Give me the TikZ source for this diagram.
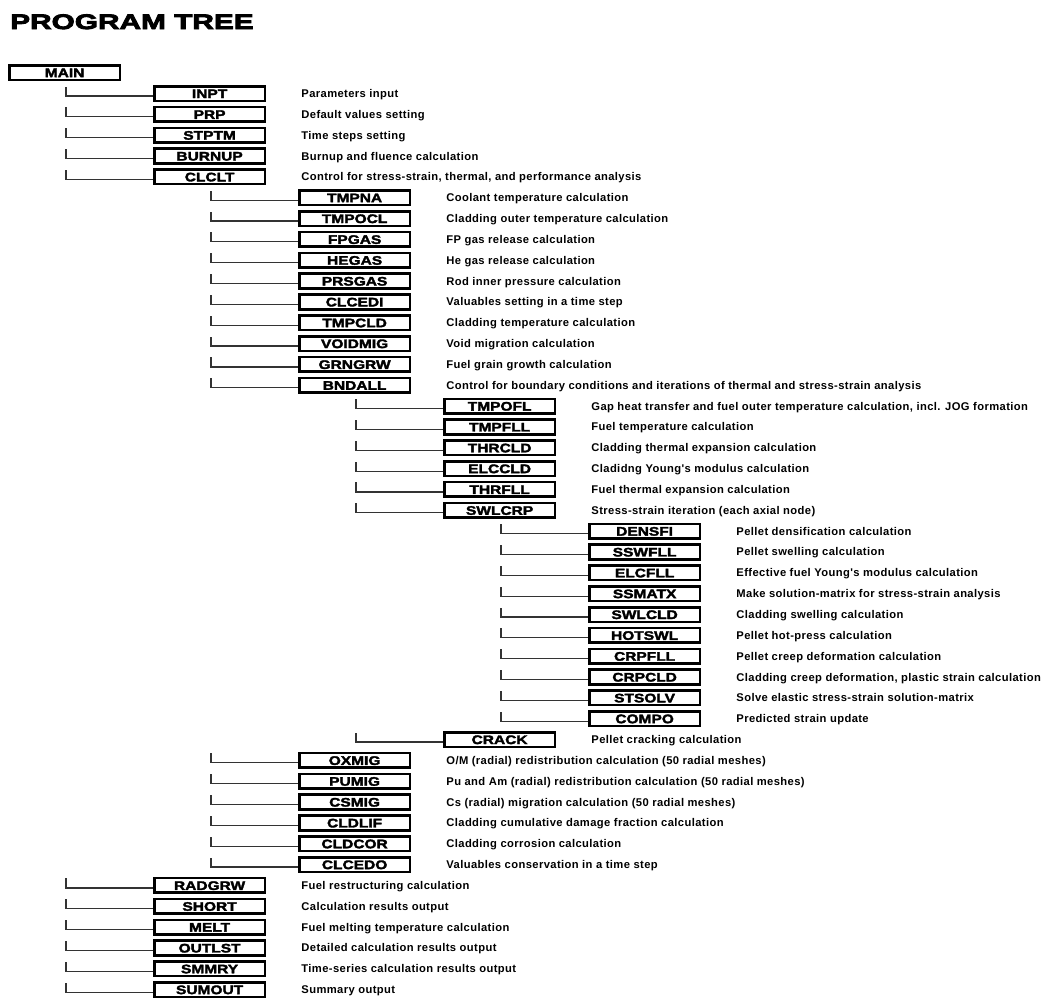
\documentclass[tikz,border=0pt]{standalone}
\usepackage{fontspec}
\usetikzlibrary{calc}

% Heavy, wide face for routine names and the heading
\newfontfamily\heavyfont{Liberation Sans}[FakeStretch=1.25,BoldFeatures={FakeBold=2.6}]
\newfontfamily\titlefont{Liberation Sans}[FakeStretch=1.42,BoldFeatures={FakeBold=4}]
% Face for the routine descriptions
\newfontfamily\descfont{Liberation Sans}[LetterSpace=3.5]

\tikzset{
  routine/.style={draw=black, line width=2.6pt, fill=white,
    minimum width=110.6pt, minimum height=14.6pt, inner sep=0pt, anchor=west,
    font=\heavyfont\bfseries\fontsize{12.4}{12.4}\selectfont,
    text height=9pt, text depth=0pt},
  note/.style={anchor=base west, inner sep=0pt,
    font=\descfont\bfseries\fontsize{11.2}{12}\selectfont},
  branch/.style={draw=black!80, line width=1.2pt},
  heading/.style={anchor=base west, inner sep=0pt,
    font=\titlefont\bfseries\fontsize{21}{21}\selectfont},
}

% \rtn{name}{parent}{level}{row}{description}
\newcommand\rtn[5]{%
  \node[routine] (#1) at ({8+145*#3},{-(93.5+20.84*#4)}) {#1};
  \node[note] (#1-note) at ($(#1.east)+(35pt,-4pt)$) {#5};
  \draw[branch] ([yshift=-2.5pt]#1.west) -| ($(#2.west |- #1.west)+(58pt,7pt)$);
}

\begin{document}
\begin{tikzpicture}[x=1pt,y=1pt]
\useasboundingbox (0,0) rectangle (1048,-999);

\node[heading] (title) at (10,-29) {PROGRAM TREE};

\node[routine] (MAIN) at (8,{-(93.5-20.84)}) {MAIN};

\rtn{INPT}{MAIN}{1}{0}{Parameters input}
\rtn{PRP}{MAIN}{1}{1}{Default values setting}
\rtn{STPTM}{MAIN}{1}{2}{Time steps setting}
\rtn{BURNUP}{MAIN}{1}{3}{Burnup and fluence calculation}
\rtn{CLCLT}{MAIN}{1}{4}{Control for stress-strain, thermal, and performance analysis}
\rtn{TMPNA}{CLCLT}{2}{5}{Coolant temperature calculation}
\rtn{TMPOCL}{CLCLT}{2}{6}{Cladding outer temperature calculation}
\rtn{FPGAS}{CLCLT}{2}{7}{FP gas release calculation}
\rtn{HEGAS}{CLCLT}{2}{8}{He gas release calculation}
\rtn{PRSGAS}{CLCLT}{2}{9}{Rod inner pressure calculation}
\rtn{CLCEDI}{CLCLT}{2}{10}{Valuables setting in a time step}
\rtn{TMPCLD}{CLCLT}{2}{11}{Cladding temperature calculation}
\rtn{VOIDMIG}{CLCLT}{2}{12}{Void migration calculation}
\rtn{GRNGRW}{CLCLT}{2}{13}{Fuel grain growth calculation}
\rtn{BNDALL}{CLCLT}{2}{14}{Control for boundary conditions and iterations of thermal and stress-strain analysis}
\rtn{TMPOFL}{BNDALL}{3}{15}{Gap heat transfer and fuel outer temperature calculation, incl. JOG formation}
\rtn{TMPFLL}{BNDALL}{3}{16}{Fuel temperature calculation}
\rtn{THRCLD}{BNDALL}{3}{17}{Cladding thermal expansion calculation}
\rtn{ELCCLD}{BNDALL}{3}{18}{Cladidng Young's modulus calculation}
\rtn{THRFLL}{BNDALL}{3}{19}{Fuel thermal expansion calculation}
\rtn{SWLCRP}{BNDALL}{3}{20}{Stress-strain iteration (each axial node)}
\rtn{DENSFI}{SWLCRP}{4}{21}{Pellet densification calculation}
\rtn{SSWFLL}{SWLCRP}{4}{22}{Pellet swelling calculation}
\rtn{ELCFLL}{SWLCRP}{4}{23}{Effective fuel Young's modulus calculation}
\rtn{SSMATX}{SWLCRP}{4}{24}{Make solution-matrix for stress-strain analysis}
\rtn{SWLCLD}{SWLCRP}{4}{25}{Cladding swelling calculation}
\rtn{HOTSWL}{SWLCRP}{4}{26}{Pellet hot-press calculation}
\rtn{CRPFLL}{SWLCRP}{4}{27}{Pellet creep deformation calculation}
\rtn{CRPCLD}{SWLCRP}{4}{28}{Cladding creep deformation, plastic strain calculation}
\rtn{STSOLV}{SWLCRP}{4}{29}{Solve elastic stress-strain solution-matrix}
\rtn{COMPO}{SWLCRP}{4}{30}{Predicted strain update}
\rtn{CRACK}{BNDALL}{3}{31}{Pellet cracking calculation}
\rtn{OXMIG}{CLCLT}{2}{32}{O/M (radial) redistribution calculation (50 radial meshes)}
\rtn{PUMIG}{CLCLT}{2}{33}{Pu and Am (radial) redistribution calculation (50 radial meshes)}
\rtn{CSMIG}{CLCLT}{2}{34}{Cs (radial) migration calculation (50 radial meshes)}
\rtn{CLDLIF}{CLCLT}{2}{35}{Cladding cumulative damage fraction calculation}
\rtn{CLDCOR}{CLCLT}{2}{36}{Cladding corrosion calculation}
\rtn{CLCEDO}{CLCLT}{2}{37}{Valuables conservation in a time step}
\rtn{RADGRW}{MAIN}{1}{38}{Fuel restructuring calculation}
\rtn{SHORT}{MAIN}{1}{39}{Calculation results output}
\rtn{MELT}{MAIN}{1}{40}{Fuel melting temperature calculation}
\rtn{OUTLST}{MAIN}{1}{41}{Detailed calculation results output}
\rtn{SMMRY}{MAIN}{1}{42}{Time-series calculation results output}
\rtn{SUMOUT}{MAIN}{1}{43}{Summary output}
\end{tikzpicture}
\end{document}
